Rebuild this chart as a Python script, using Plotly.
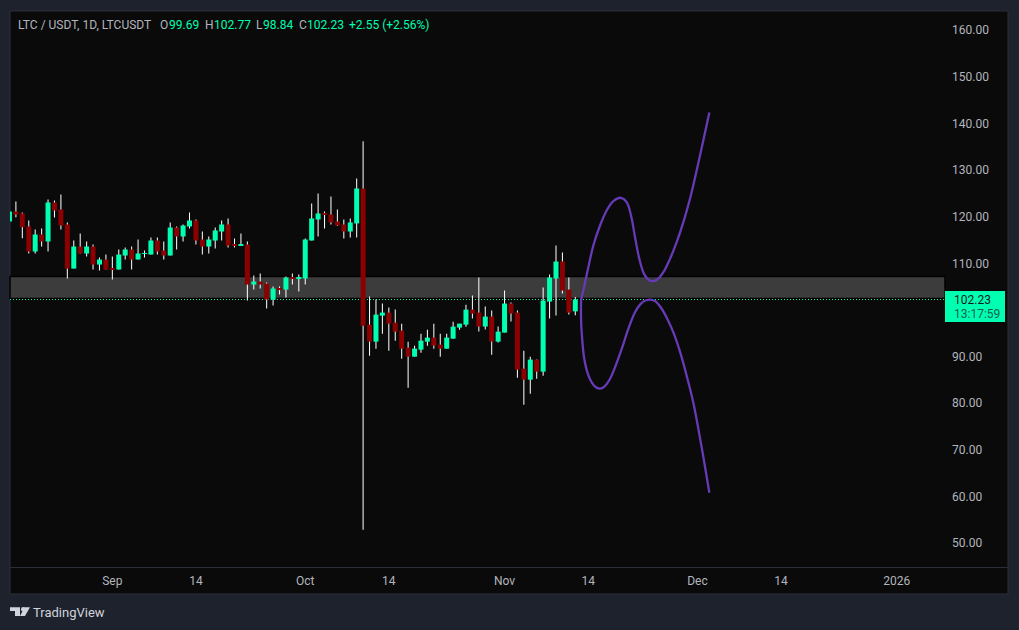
import pandas as pd
import plotly.graph_objects as go

# 日足データ (チャートから読み取り)
first_day = "2025-08-16"
opens = [118.97, 121.12, 120.69, 117.90, 112.53, 116.18, 114.68, 123.05, 121.55, 118.33,
         108.87, 113.60, 112.10, 113.60, 109.73, 110.81, 108.87, 108.66, 111.67, 112.96,
         110.81, 112.00, 111.88, 114.89, 112.74, 111.67, 117.68, 115.75, 117.90, 119.19,
         115.10, 113.60, 114.89, 116.82, 118.33, 114.03, 113.82, 114.03, 105.44, 106.08,
         105.65, 102.22, 104.58, 104.37, 106.94, 106.73, 106.73, 114.89, 119.40, 120.69,
         120.48, 118.97, 118.33, 116.82, 118.55, 126.06, 96.83, 93.19, 98.77, 99.42,
         97.27, 95.55, 91.90, 89.97, 91.47, 93.19, 94.05, 92.54, 91.68, 93.83,
         96.20, 96.84, 100.07, 99.42, 96.42, 98.57, 93.20, 95.13, 101.36, 99.42,
         87.39, 85.03, 89.33, 86.75, 101.79, 106.73, 110.38, 104.36, 99.69]
highs = [121.30, 123.27, 120.90, 119.20, 117.26, 117.47, 123.70, 123.48, 124.77, 118.76,
         114.89, 116.39, 114.68, 114.03, 111.24, 111.88, 111.45, 112.96, 113.39, 113.60,
         115.10, 112.75, 115.54, 115.54, 114.68, 118.76, 117.90, 118.33, 120.90, 119.40,
         116.82, 115.75, 117.68, 119.19, 119.62, 115.32, 116.39, 114.68, 107.37, 107.80,
         105.87, 105.01, 105.01, 107.16, 107.80, 107.59, 115.32, 122.84, 124.99, 121.12,
         124.34, 121.55, 119.40, 119.62, 128.20, 136.20, 102.85, 102.21, 101.35, 100.49,
         100.06, 97.05, 93.19, 92.33, 94.90, 95.76, 97.05, 94.90, 94.90, 97.48,
         97.05, 101.13, 103.08, 106.94, 100.71, 99.85, 96.42, 104.15, 101.57, 99.85,
         91.26, 89.97, 89.33, 104.80, 107.59, 113.82, 112.31, 106.94, 102.77]
lows = [118.80, 119.90, 115.40, 112.10, 112.10, 113.60, 112.53, 119.83, 117.25, 106.73,
        108.87, 112.10, 111.45, 108.66, 108.45, 108.66, 106.51, 108.66, 110.81, 108.65,
        110.81, 111.24, 111.88, 111.88, 110.81, 111.67, 112.96, 114.68, 117.47, 114.03,
        111.88, 112.10, 113.17, 114.89, 113.39, 113.39, 113.82, 102.00, 104.37, 104.58,
        100.28, 100.93, 103.29, 102.65, 105.44, 103.94, 105.44, 114.89, 115.75, 117.47,
        118.33, 118.00, 115.32, 115.54, 115.54, 52.80, 90.18, 91.68, 94.90, 91.25,
        93.40, 89.54, 83.31, 89.97, 90.82, 92.33, 91.68, 89.97, 91.68, 93.83,
        95.76, 96.41, 98.13, 95.34, 95.77, 90.40, 92.98, 95.13, 97.49, 85.46,
        79.66, 82.03, 85.25, 85.89, 98.13, 98.78, 103.50, 98.99, 98.84]
closes = [121.12, 120.48, 117.76, 112.53, 116.18, 114.68, 123.05, 121.34, 118.11, 108.87,
          113.60, 112.10, 113.60, 109.73, 110.81, 108.66, 108.66, 111.88, 112.96, 110.81,
          112.10, 112.20, 114.89, 112.53, 111.67, 117.68, 115.75, 118.11, 119.19, 114.89,
          113.60, 115.10, 117.04, 118.33, 113.82, 113.82, 114.03, 105.44, 106.08, 105.44,
          102.22, 104.58, 104.37, 106.94, 106.73, 106.94, 115.10, 119.62, 120.69, 120.48,
          118.76, 118.11, 116.82, 118.76, 126.06, 96.62, 93.19, 98.99, 99.42, 97.05,
          95.33, 91.68, 89.97, 91.68, 93.40, 94.05, 92.33, 91.68, 94.05, 96.41,
          97.05, 100.06, 99.21, 96.42, 98.57, 93.20, 95.34, 101.36, 99.21, 87.18,
          85.03, 89.33, 86.75, 102.00, 106.94, 110.38, 104.15, 99.42, 102.23]

# 予想の曲線 (9/1からの日数, 価格)
curve_origin = "2025-09-01"
upper_days = [72.9, 73.36, 74.03, 74.81, 75.85, 76.88, 77.92, 79.06, 79.99, 80.67, 81.29, 81.96,
              82.69, 83.36, 84.04, 84.76, 85.70, 86.73, 87.77, 88.81, 89.84, 90.88, 91.91, 92.85]
upper_prices = [102.2, 104.87, 109.17, 113.82, 118.11, 121.34, 123.34, 124.06, 123.13, 120.26, 115.61, 110.95,
                107.73, 106.51, 106.16, 106.51, 108.09, 110.95, 114.53, 118.83, 123.85, 129.93, 136.37, 142.38]
lower_days = [72.9, 72.9, 73.05, 73.36, 73.88, 74.55, 75.22, 75.85, 76.52, 77.30, 78.18, 79.22, 80.25,
              81.29, 82.17, 83.0, 83.73, 84.40, 85.28, 86.32, 87.35, 88.39, 89.32, 90.36, 91.66, 92.85]
lower_prices = [102.22, 97.71, 94.13, 89.83, 86.6, 84.46, 83.39, 83.1, 83.53, 84.96, 87.68, 91.62, 95.92,
                99.5, 101.29, 102.07, 102.22, 101.93, 100.57, 98.06, 94.84, 90.55, 85.89, 80.09, 70.48, 60.75]

zone_top = 107.16
zone_bottom = 102.44
last_price = 102.23

y_ticks = [160, 150, 140, 130, 120, 110, 90, 80, 70, 60, 50]
x_tick_dates = ["2025-09-01", "2025-09-14", "2025-10-01", "2025-10-14", "2025-11-01",
                "2025-11-14", "2025-12-01", "2025-12-14", "2026-01-01"]
x_tick_labels = ["Sep", "14", "Oct", "14", "Nov", "14", "Dec", "14", "2026"]

# ヘッダーの文字 (文字列, 左端px, 色)
GREEN = "#00ffb0"
RED = "#8b0000"
GRAY = "#b2b5be"
header_items = [
    ("LTC / USDT, 1D, LTCUSDT", 18, GRAY),
    ("O", 160, GRAY), ("99.69", 169, GREEN),
    ("H", 205, GRAY), ("102.77", 214, GREEN),
    ("L", 256, GRAY), ("98.84", 263, GREEN),
    ("C", 299, GRAY), ("102.23", 307, GREEN),
    ("+2.55 (+2.56%)", 349, GREEN),
]

WIDTH, HEIGHT = 1019, 630
LEFT, RIGHT, TOP, BOTTOM = 10, 945, 11, 567
DAY_MS = 86400000


def px(x):
    return (x - LEFT) / (RIGHT - LEFT)


def py(y):
    return (BOTTOM - y) / (BOTTOM - TOP)


dates = pd.date_range(first_day, periods=len(opens), freq="D")
origin = pd.Timestamp(curve_origin)
upper_x = origin + pd.to_timedelta(upper_days, unit="D")
lower_x = origin + pd.to_timedelta(lower_days, unit="D")

colors = [GREEN if c >= o else RED for o, c in zip(opens, closes)]
body_base = [min(o, c) for o, c in zip(opens, closes)]
body_size = [abs(c - o) for o, c in zip(opens, closes)]
wick_size = [h - l for h, l in zip(highs, lows)]

# ヒゲは白、実体はその上に重ねる (どちらもバー)
# ヒゲは不透明だと2pxに広がるので少しだけ透過にする
data = [
    go.Bar(x=dates, y=wick_size, base=lows, width=DAY_MS * 0.16,
           marker={"color": "rgba(255,255,255,0.99)", "line": {"width": 0}}),
    go.Bar(x=dates, y=body_size, base=body_base, width=DAY_MS * 0.78, marker={"color": colors, "line": {"width": 0}}),
    go.Scatter(x=upper_x, y=upper_prices, mode="lines", line={"color": "#673ab7", "width": 2.3, "shape": "spline"}),
    go.Scatter(x=lower_x, y=lower_prices, mode="lines", line={"color": "#673ab7", "width": 2.3, "shape": "spline"}),
]

layout = {
    "width": WIDTH,
    "height": HEIGHT,
    "margin": {"l": LEFT, "r": WIDTH - RIGHT, "t": TOP, "b": HEIGHT - BOTTOM, "pad": 0},
    "autosize": False,
    "showlegend": False,
    "barmode": "overlay",
    "paper_bgcolor": "#1e222d",
    "plot_bgcolor": "#0a0a0a",
    "font": {"family": "Roboto", "size": 12, "color": GRAY},
    "xaxis": {
        "type": "date",
        "range": ["2025-08-16 02:00", "2026-01-08 12:00"],
        "tickvals": x_tick_dates,
        "ticktext": x_tick_labels,
        "showgrid": False,
        "zeroline": False,
        "showline": False,
        "ticks": "",
        "ticklabelstandoff": 5,
        "tickangle": 0,
    },
    "yaxis": {
        "range": [44.83, 164.14],
        "side": "right",
        "tickvals": y_ticks,
        "tickformat": ".2f",
        "showgrid": False,
        "zeroline": False,
        "showline": False,
        "ticks": "",
        "ticklabelstandoff": 6,
    },
    "shapes": [
        # パネル背景と枠
        {"type": "rect", "xref": "paper", "yref": "paper", "layer": "below",
         "x0": px(10), "x1": px(1008), "y0": py(594), "y1": py(11),
         "fillcolor": "#0a0a0a", "line": {"color": "#2a2e39", "width": 1}},
        {"type": "line", "xref": "paper", "yref": "paper", "layer": "above",
         "x0": px(10), "x1": px(1008), "y0": py(567.5), "y1": py(567.5),
         "line": {"color": "#2a2e39", "width": 1}},
        # レジスタンス帯
        {"type": "rect", "xref": "paper", "yref": "y", "layer": "below",
         "x0": 0, "x1": 1, "y0": zone_bottom, "y1": zone_top,
         "fillcolor": "#3c3c3c", "line": {"color": "#000000", "width": 1.5}},
        # 現在値ライン
        {"type": "line", "xref": "paper", "yref": "y", "layer": "below",
         "x0": 0, "x1": 1, "y0": last_price, "y1": last_price,
         "line": {"color": GREEN, "width": 1, "dash": "1px,2px"}},
        # 現在値ラベル
        {"type": "rect", "xref": "paper", "yref": "paper", "layer": "above",
         "x0": px(945), "x1": px(1005), "y0": py(322), "y1": py(291),
         "fillcolor": GREEN, "line": {"width": 0}},
        # ロゴ
        {"type": "path", "xref": "paper", "yref": "paper", "layer": "above",
         "path": "M {} {} L {} {} L {} {} L {} {} L {} {} L {} {} Z".format(
             px(10), py(607.3), px(20), py(607.3), px(20), py(616), px(15), py(616), px(15), py(611), px(10), py(611)),
         "fillcolor": "#d1d4dc", "line": {"width": 0}},
        {"type": "path", "xref": "paper", "yref": "paper", "layer": "above",
         "path": "M {} {} L {} {} L {} {} L {} {} Z".format(
             px(24.5), py(607.3), px(30), py(607.3), px(25), py(616), px(20), py(616)),
         "fillcolor": "#d1d4dc", "line": {"width": 0}},
        {"type": "circle", "xref": "paper", "yref": "paper", "layer": "above",
         "x0": px(21), "x1": px(25.4), "y0": py(611.4), "y1": py(607),
         "fillcolor": "#d1d4dc", "line": {"width": 0}},
    ],
}

annotations = []
for text, x, color in header_items:
    annotations.append({
        "text": text, "xref": "paper", "yref": "paper", "x": px(x - 2), "y": py(25),
        "xanchor": "left", "yanchor": "middle", "showarrow": False,
        "font": {"family": "Roboto", "size": 12, "color": color},
    })
annotations += [
    {"text": "102.23", "xref": "paper", "yref": "paper", "x": px(952), "y": py(299.5),
     "xanchor": "left", "yanchor": "middle", "showarrow": False,
     "font": {"family": "Roboto", "size": 12, "color": "#131722"}},
    {"text": "13:17:59", "xref": "paper", "yref": "paper", "x": px(952), "y": py(313.5),
     "xanchor": "left", "yanchor": "middle", "showarrow": False,
     "font": {"family": "Roboto", "size": 12, "color": "#14614f"}},
    {"text": "TradingView", "xref": "paper", "yref": "paper", "x": px(31), "y": py(612),
     "xanchor": "left", "yanchor": "middle", "showarrow": False,
     "font": {"family": "Roboto", "size": 13, "color": "#d1d4dc"}},
]
layout["annotations"] = annotations

fig = go.Figure(data=data, layout=go.Layout(layout))
# ページの余白を消す
fig.write_html("out.html", config={"displayModeBar": False},
               post_script="document.body.style.margin='0';document.documentElement.style.overflow='hidden';")
